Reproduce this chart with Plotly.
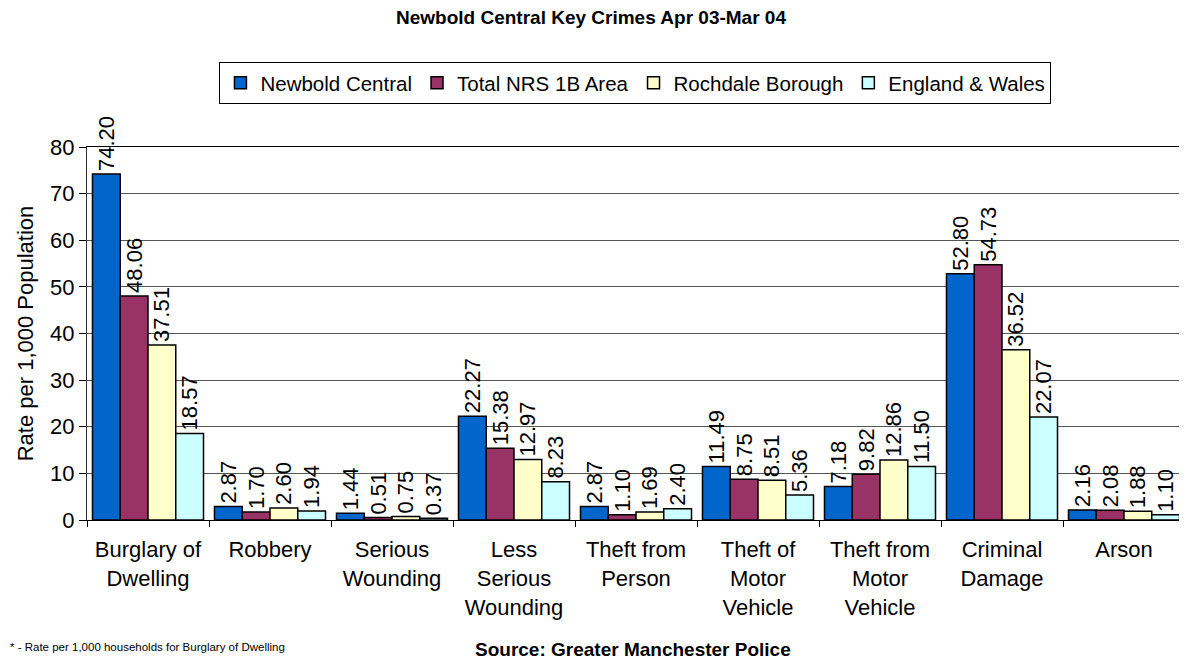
import plotly.graph_objects as go

categories = ["Burglary of<br>Dwelling", "Robbery", "Serious<br>Wounding", "Less<br>Serious<br>Wounding",
              "Theft from<br>Person", "Theft of<br>Motor<br>Vehicle", "Theft from<br>Motor<br>Vehicle",
              "Criminal<br>Damage", "Arson"]
series_names = ["Newbold Central", "Total NRS 1B Area", "Rochdale Borough", "England & Wales"]
newbold = [74.20, 2.87, 1.44, 22.27, 2.87, 11.49, 7.18, 52.80, 2.16]
total_nrs = [48.06, 1.70, 0.51, 15.38, 1.10, 8.75, 9.82, 54.73, 2.08]
rochdale = [37.51, 2.60, 0.75, 12.97, 1.69, 8.51, 12.86, 36.52, 1.88]
england = [18.57, 1.94, 0.37, 8.23, 2.40, 5.36, 11.50, 22.07, 1.10]
colors = ["#0066CC", "#993366", "#FFFFCC", "#CCFFFF"]

FONT = "Arial, Liberation Sans, sans-serif"

fig = go.Figure()
for name, vals, col in zip(series_names, [newbold, total_nrs, rochdale, england], colors):
    fig.add_trace(go.Bar(
        x=categories, y=vals, name=name,
        marker=dict(color=col, line=dict(color="black", width=1.5)),
        text=[f"{v:.2f}" for v in vals], textposition="outside", textangle=-90,
        textfont=dict(family=FONT, size=22, color="black"),
        constraintext="none", cliponaxis=False,
    ))

fig.update_layout(
    width=1179, height=652,
    paper_bgcolor="white", plot_bgcolor="white",
    font=dict(family=FONT, size=22, color="black"),
    barmode="group", bargap=0.09, bargroupgap=0,
    margin=dict(l=79, r=2, t=139, b=140),
    title=dict(text="<b>Newbold Central Key Crimes Apr 03-Mar 04</b>", x=0.4945, xanchor="center",
               y=0.985, yanchor="middle", font=dict(size=19)),
    legend=dict(orientation="h", x=0.4995, xanchor="center", y=1.228, yanchor="top",
                bordercolor="black", borderwidth=1, font=dict(size=20.5),
                itemwidth=30, traceorder="normal"),
    showlegend=True,
)
fig.update_yaxes(range=[0, 80], dtick=10, showgrid=True, gridcolor="#555555", gridwidth=1,
                 showline=True, linecolor="#333333", linewidth=1, mirror=True,
                 ticks="outside", ticklen=7, tickcolor="black", tickfont=dict(size=22),
                 title=dict(text="Rate per 1,000 Population", font=dict(size=22), standoff=10),
                 zeroline=False)
fig.update_xaxes(showline=True, linecolor="black", linewidth=1, mirror=True,
                 ticks="outside", ticklen=6, tickson="boundaries", tickcolor="black",
                 tickfont=dict(size=22), tickangle=0, ticklabelstandoff=10)

fig.add_annotation(text="* - Rate per 1,000 households for Burglary of Dwelling", xref="paper", yref="paper",
                   x=-0.072, y=-0.340, xanchor="left", yanchor="middle", showarrow=False,
                   font=dict(size=11.5))
fig.add_annotation(text="<b>Source: Greater Manchester Police</b>", xref="paper", yref="paper",
                   x=0.497, y=-0.3485, xanchor="center", yanchor="middle", showarrow=False,
                   font=dict(size=19))

fig.write_html("out.html")
